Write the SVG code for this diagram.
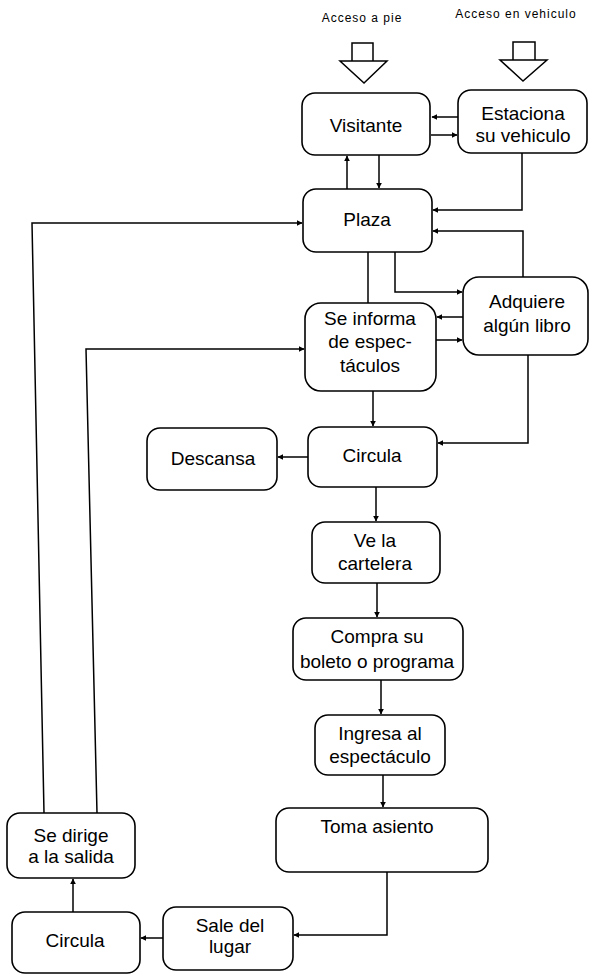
<svg xmlns="http://www.w3.org/2000/svg" width="589" height="975" viewBox="0 0 589 975">
<defs>
<marker id="ah" viewBox="0 0 10 10" refX="9" refY="5" markerWidth="6" markerHeight="6" markerUnits="userSpaceOnUse" orient="auto">
<path d="M0,0 L10,5 L0,10 z" fill="#000"/>
</marker>
</defs>
<style>
.box{fill:#fff;stroke:#000;stroke-width:1.6}
.t{font-family:"Liberation Sans",Arial,sans-serif;font-size:19px;fill:#000;text-anchor:middle}
.h{font-family:"Liberation Sans",Arial,sans-serif;font-size:12px;letter-spacing:1px;fill:#000;text-anchor:middle}
.c{fill:none;stroke:#000;stroke-width:1.5}
.c.a{marker-end:url(#ah)}
.blk{fill:#fff;stroke:#000;stroke-width:1.5}
</style>
<rect width="589" height="975" fill="#fff"/>

<g id="access">
<text class="h" x="362" y="22">Acceso a pie</text>
<text class="h" x="516" y="18">Acceso en vehiculo</text>
<path class="blk" d="M352,61 V43 H373 V61"/>
<path class="blk" d="M340,61 H387 L364,83 Z"/>
<path class="blk" d="M513,60 V42 H535 V60"/>
<path class="blk" d="M500,60 H547 L523,81 Z"/>
</g>

<g id="connectors">
<path class="c a" d="M458,117 H432"/>
<path class="c a" d="M431,135 H457"/>
<path class="c a" d="M347,189 V156"/>
<path class="c a" d="M379,155 V188"/>
<path class="c a" d="M522,153 V210 H433"/>
<path class="c a" d="M523,277 V231 H433"/>
<path class="c a" d="M395,252 V292 H462"/>
<path class="c" d="M368,252 V303"/>
<path class="c a" d="M463,317 H437"/>
<path class="c a" d="M436,340 H462"/>
<path class="c a" d="M373,391 V426"/>
<path class="c a" d="M528,355 V443 H438"/>
<path class="c a" d="M308,457 H278"/>
<path class="c a" d="M376,487 V521"/>
<path class="c a" d="M377,583 V617"/>
<path class="c a" d="M381,680 V714"/>
<path class="c a" d="M383,775 V807"/>
<path class="c a" d="M387,872 V935 H294"/>
<path class="c a" d="M163,938 H141"/>
<path class="c a" d="M73,912 V879"/>
<path class="c a" d="M44,813 L32,223 H302"/>
<path class="c a" d="M97,813 L86,349 H304"/>
</g>

<g id="visitante"><rect class="box" x="302" y="93" width="128" height="62" rx="13"/><text class="t" x="366" y="132">Visitante</text></g>
<g id="estaciona"><rect class="box" x="458" y="90" width="129" height="63" rx="13"/><text class="t" x="523" y="120">Estaciona</text><text class="t" x="523" y="142">su vehiculo</text></g>
<g id="plaza"><rect class="box" x="303" y="189" width="129" height="63" rx="13"/><text class="t" x="367" y="226">Plaza</text></g>
<g id="adquiere"><rect class="box" x="463" y="277" width="125" height="78" rx="16"/><text class="t" x="527" y="308">Adquiere</text><text class="t" x="527" y="332">algún libro</text></g>
<g id="seinforma"><rect class="box" x="305" y="303" width="131" height="88" rx="16"/><text class="t" x="370" y="325">Se informa</text><text class="t" x="370" y="348">de espec-</text><text class="t" x="370" y="372">táculos</text></g>
<g id="circula1"><rect class="box" x="308" y="427" width="129" height="60" rx="13"/><text class="t" x="372" y="462">Circula</text></g>
<g id="descansa"><rect class="box" x="147" y="428" width="130" height="62" rx="13"/><text class="t" x="213" y="465">Descansa</text></g>
<g id="velacartelera"><rect class="box" x="312" y="522" width="128" height="61" rx="13"/><text class="t" x="375" y="547">Ve la</text><text class="t" x="375" y="570">cartelera</text></g>
<g id="compra"><rect class="box" x="293" y="618" width="170" height="62" rx="13"/><text class="t" x="377" y="643">Compra su</text><text class="t" x="377" y="668">boleto o programa</text></g>
<g id="ingresa"><rect class="box" x="315" y="715" width="130" height="60" rx="13"/><text class="t" x="380" y="740">Ingresa al</text><text class="t" x="380" y="763">espectáculo</text></g>
<g id="tomaasiento"><rect class="box" x="276" y="808" width="212" height="64" rx="13"/><text class="t" x="377" y="833">Toma asiento</text></g>
<g id="saledellugar"><rect class="box" x="163" y="907" width="130" height="63" rx="13"/><text class="t" x="230" y="932">Sale del</text><text class="t" x="230" y="953">lugar</text></g>
<g id="circula2"><rect class="box" x="12" y="912" width="128" height="61" rx="13"/><text class="t" x="75" y="947">Circula</text></g>
<g id="sedirige"><rect class="box" x="7" y="813" width="128" height="65" rx="13"/><text class="t" x="71" y="842">Se dirige</text><text class="t" x="71" y="863">a la salida</text></g>
</svg>
